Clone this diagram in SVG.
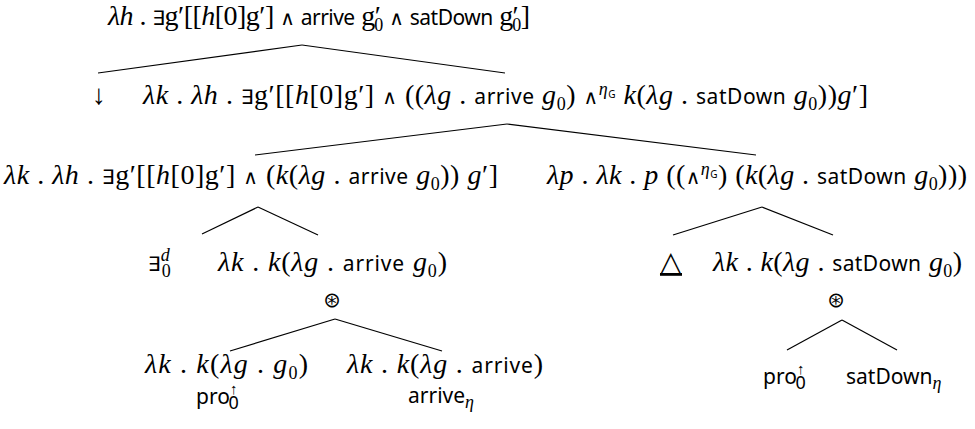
<svg xmlns="http://www.w3.org/2000/svg" width="975" height="429" viewBox="0 0 975 429">
<style>
text { font-family: "Liberation Serif", serif; font-size: 28px; fill: #000; }
.i { font-style: italic; }
.s { font-family: "Noto Sans", "Open Sans", sans-serif; font-size: 21px; font-style: normal; }
.a { font-family: "DejaVu Sans", sans-serif; font-size: 20px; font-style: normal; }
.sm { font-size: 18px; }
.xs { font-family: "Noto Sans", sans-serif; font-size: 10px; font-style: normal; }
.op { font-family: "DejaVu Sans", sans-serif; font-size: 21px; }
.edges line { stroke: #000; stroke-width: 1.2; }
</style>
<rect width="975" height="429" fill="#fff"/>
<g class="edges" id="connectors">
<line x1="302" y1="45" x2="98" y2="73"/>
<line x1="302" y1="45" x2="505" y2="73"/>
<line x1="507" y1="124" x2="255" y2="155"/>
<line x1="507" y1="124" x2="756" y2="155"/>
<line x1="258" y1="207" x2="202" y2="234"/>
<line x1="258" y1="207" x2="318" y2="235"/>
<line x1="762" y1="207" x2="673" y2="235"/>
<line x1="762" y1="207" x2="833" y2="235"/>
<line x1="335" y1="319" x2="230" y2="351"/>
<line x1="335" y1="319" x2="442" y2="351"/>
<line x1="842" y1="320" x2="787" y2="350"/>
<line x1="842" y1="320" x2="897" y2="350"/>
</g>
<g id="n-root">
<text x="108" y="25" textLength="422" lengthAdjust="spacing"><tspan class="i">λh</tspan> . <tspan class="a">∃</tspan>g′[[<tspan class="i">h</tspan>[0]g′] <tspan class="a">∧</tspan> <tspan class="s">arrive</tspan> g′<tspan class="sm" dx="-6" dy="6">0</tspan><tspan dy="-6"> </tspan><tspan class="a">∧</tspan> <tspan class="s">satDown</tspan> g′<tspan class="sm" dx="-6" dy="6">0</tspan><tspan dy="-6">]</tspan></text>
</g>
<g id="n-lower">
<text x="92" y="104" font-family="Liberation Sans" font-size="22" fill="#000">↓</text>
<text x="143" y="104" textLength="725" lengthAdjust="spacing"><tspan class="i">λk</tspan> . <tspan class="i">λh</tspan> . <tspan class="a">∃</tspan>g′[[<tspan class="i">h</tspan>[0]g′] <tspan class="a">∧</tspan> ((<tspan class="i">λg</tspan> . <tspan class="s">arrive</tspan> <tspan class="i">g</tspan><tspan class="sm" dy="6">0</tspan><tspan dy="-6">) </tspan><tspan class="a">∧</tspan><tspan class="sm i" dy="-9">η</tspan><tspan class="xs" dy="3">G</tspan><tspan dy="6"> </tspan><tspan class="i">k</tspan>(<tspan class="i">λg</tspan> . <tspan class="s">satDown</tspan> <tspan class="i">g</tspan><tspan class="sm" dy="6">0</tspan><tspan dy="-6">))</tspan><tspan class="i">g</tspan>′]</text>
</g>
<g id="n-left">
<text x="4" y="184" textLength="494" lengthAdjust="spacing"><tspan class="i">λk</tspan> . <tspan class="i">λh</tspan> . <tspan class="a">∃</tspan>g′[[<tspan class="i">h</tspan>[0]g′] <tspan class="a">∧</tspan> (<tspan class="i">k</tspan>(<tspan class="i">λg</tspan> . <tspan class="s">arrive</tspan> <tspan class="i">g</tspan><tspan class="sm" dy="6">0</tspan><tspan dy="-6">)) </tspan><tspan class="i">g</tspan>′]</text>
</g>
<g id="n-right">
<text x="547" y="184" textLength="420" lengthAdjust="spacing"><tspan class="i">λp</tspan> . <tspan class="i">λk</tspan> . <tspan class="i">p</tspan> ((<tspan class="a">∧</tspan><tspan class="sm i" dy="-9">η</tspan><tspan class="xs" dy="3">G</tspan><tspan dy="6">) (</tspan><tspan class="i">k</tspan>(<tspan class="i">λg</tspan> . <tspan class="s">satDown</tspan> <tspan class="i">g</tspan><tspan class="sm" dy="6">0</tspan><tspan dy="-6">)))</tspan></text>
</g>
<g id="n-exists">
<text x="148" y="271"><tspan class="a" font-size="22">∃</tspan><tspan class="sm i" dy="-10">d</tspan><tspan class="sm" dx="-8" dy="16">0</tspan></text>
</g>
<g id="n-arrive-k">
<text x="218" y="271" textLength="229" lengthAdjust="spacing"><tspan class="i">λk</tspan> . <tspan class="i">k</tspan>(<tspan class="i">λg</tspan> . <tspan class="s">arrive</tspan> <tspan class="i">g</tspan><tspan class="sm" dy="6">0</tspan><tspan dy="-6">)</tspan></text>
<text class="op" x="332" y="307" text-anchor="middle">⊛</text>
</g>
<g id="n-tri">
<text x="660" y="271" font-family="DejaVu Sans" font-size="14" text-decoration="underline">△</text>
</g>
<g id="n-sat-k">
<text x="713" y="271" textLength="249" lengthAdjust="spacing"><tspan class="i">λk</tspan> . <tspan class="i">k</tspan>(<tspan class="i">λg</tspan> . <tspan class="s">satDown</tspan> <tspan class="i">g</tspan><tspan class="sm" dy="6">0</tspan><tspan dy="-6">)</tspan></text>
<text class="op" x="836" y="307" text-anchor="middle">⊛</text>
</g>
<g id="n-pro-l">
<text x="145" y="373" textLength="163" lengthAdjust="spacing"><tspan class="i">λk</tspan> . <tspan class="i">k</tspan>(<tspan class="i">λg</tspan> . <tspan class="i">g</tspan><tspan class="sm" dy="6">0</tspan><tspan dy="-6">)</tspan></text>
<text class="s" x="196" y="404">pro<tspan font-size="15" dy="-10">↑</tspan><tspan class="sm" dx="-9" dy="15">0</tspan></text>
</g>
<g id="n-arrive-eta">
<text x="347" y="373" textLength="196" lengthAdjust="spacing"><tspan class="i">λk</tspan> . <tspan class="i">k</tspan>(<tspan class="i">λg</tspan> . <tspan class="s">arrive</tspan>)</text>
<text class="s" x="408" y="403">arrive<tspan class="sm" font-family="Liberation Serif" font-style="italic" dy="5">η</tspan></text>
</g>
<g id="n-pro-r">
<text class="s" x="763" y="384">pro<tspan font-size="15" dy="-10">↑</tspan><tspan class="sm" dx="-9" dy="15">0</tspan></text>
</g>
<g id="n-sat-eta">
<text class="s" x="846" y="384">satDown<tspan class="sm" font-family="Liberation Serif" font-style="italic" dy="5">η</tspan></text>
</g>
</svg>
